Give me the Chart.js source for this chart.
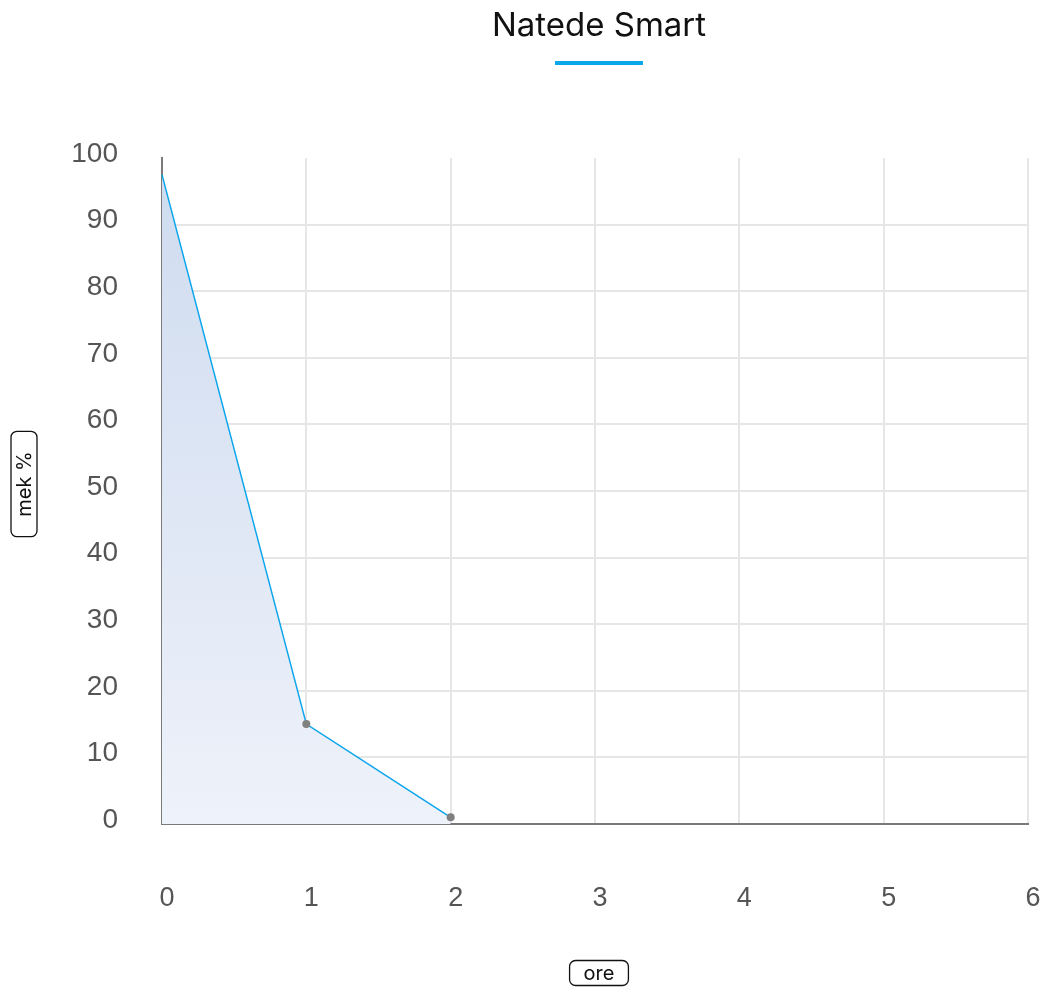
<!DOCTYPE html>
<html>
<head>
<meta charset="utf-8">
<script src="https://cdn.jsdelivr.net/npm/chart.js@4.4.1/dist/chart.umd.min.js"></script>
<style>
  html, body { margin: 0; padding: 0; background: #fff; }
  #wrap { width: 1050px; height: 989px; }
</style>
</head>
<body>
<div id="wrap"><canvas id="chart"></canvas></div>
<script>
// data
const hours = [0, 1, 2];
const mekValues = [97.5, 15, 1];
const xTickValues = [0, 1, 2, 3, 4, 5, 6];
const yTickValues = [0, 10, 20, 30, 40, 50, 60, 70, 80, 90, 100];
const chartTitle = "Natede Smart";
const xTitle = "ore";
const yTitle = "mek %";

const points = hours.map((h, i) => ({ x: h, y: mekValues[i] }));

// title + underline + boxed axis titles
const decorPlugin = {
  id: "decor",
  afterDraw(chart) {
    const ctx = chart.ctx;
    const area = chart.chartArea;
    const cx = (area.left + area.right) / 2 + 4;
    const cy = (area.top + area.bottom) / 2;
    ctx.save();

    ctx.fillStyle = "#111";
    ctx.font = "33px Inter, 'Liberation Sans', sans-serif";
    ctx.textAlign = "center";
    ctx.textBaseline = "middle";
    ctx.fillText(chartTitle, cx, 26);
    ctx.fillStyle = "#0aa8ea";
    ctx.fillRect(cx - 44, 61, 88, 4);

    ctx.font = "20px Inter, 'Liberation Sans', sans-serif";
    ctx.strokeStyle = "#111";
    ctx.lineWidth = 1.3;

    // x title
    let w = ctx.measureText(xTitle).width + 28;
    let h = 25;
    let bx = cx, by = 973;
    ctx.beginPath();
    ctx.roundRect(bx - w / 2, by - h / 2, w, h, 6);
    ctx.stroke();
    ctx.fillStyle = "#111";
    ctx.fillText(xTitle, bx, by + 1);

    // y title (rotated)
    w = ctx.measureText(yTitle).width + 40;
    h = 26;
    ctx.translate(24, cy - 7);
    ctx.rotate(-Math.PI / 2);
    ctx.beginPath();
    ctx.roundRect(-w / 2, -h / 2, w, h, 6);
    ctx.stroke();
    ctx.fillText(yTitle, 0, 1);

    ctx.restore();
  }
};

new Chart(document.getElementById("chart"), {
  type: "line",
  data: {
    datasets: [{
      data: points,
      borderColor: "#0ba5ec",
      borderWidth: 1.5,
      tension: 0,
      fill: "origin",
      backgroundColor(c) {
        const area = c.chart.chartArea;
        if (!area) return "#dde5f4";
        const g = c.chart.ctx.createLinearGradient(0, area.top, 0, area.bottom);
        g.addColorStop(0, "#cedbef");
        g.addColorStop(1, "#eef2fa");
        return g;
      },
      pointRadius: [0, 4, 4],
      pointBackgroundColor: "#808080",
      pointBorderWidth: 0,
      clip: false
    }]
  },
  options: {
    responsive: true,
    maintainAspectRatio: false,
    animation: false,
    layout: { padding: { left: 0, top: 158, right: 22, bottom: 0 } },
    plugins: {
      legend: { display: false },
      title: { display: false },
      tooltip: { enabled: false }
    },
    scales: {
      x: {
        type: "linear",
        min: 0,
        max: 6,
        afterBuildTicks(scale) { scale.ticks = xTickValues.map(v => ({ value: v })); },
        afterFit(scale) {
          scale.height = 165;
          scale.paddingLeft = 0;
          scale.paddingRight = 0;
        },
        grid: {
          color: c => (c.tick && c.tick.value === 0) ? "transparent" : "#e6e6e6",
          lineWidth: 2,
          drawTicks: false
        },
        border: { color: "#7a7a7a", width: 2 },
        ticks: {
          padding: 58,
          labelOffset: 5,
          color: "#555",
          font: { family: "'Liberation Sans Narrow', 'Liberation Sans', sans-serif", size: 27 },
          maxRotation: 0
        }
      },
      y: {
        min: 0,
        max: 100,
        afterBuildTicks(scale) { scale.ticks = yTickValues.map(v => ({ value: v })); },
        afterFit(scale) {
          scale.width = 162;
          scale.paddingTop = 0;
          scale.paddingBottom = 0;
        },
        grid: {
          color: c => (c.tick && (c.tick.value === 100 || c.tick.value === 0)) ? "transparent" : "#e6e6e6",
          lineWidth: 2,
          drawTicks: false
        },
        border: { color: "#7a7a7a", width: 2 },
        ticks: {
          padding: 44,
          labelOffset: -4,
          color: "#555",
          font: { family: "'Liberation Sans', sans-serif", size: 28 }
        }
      }
    }
  },
  plugins: [decorPlugin]
});
</script>
</body>
</html>
